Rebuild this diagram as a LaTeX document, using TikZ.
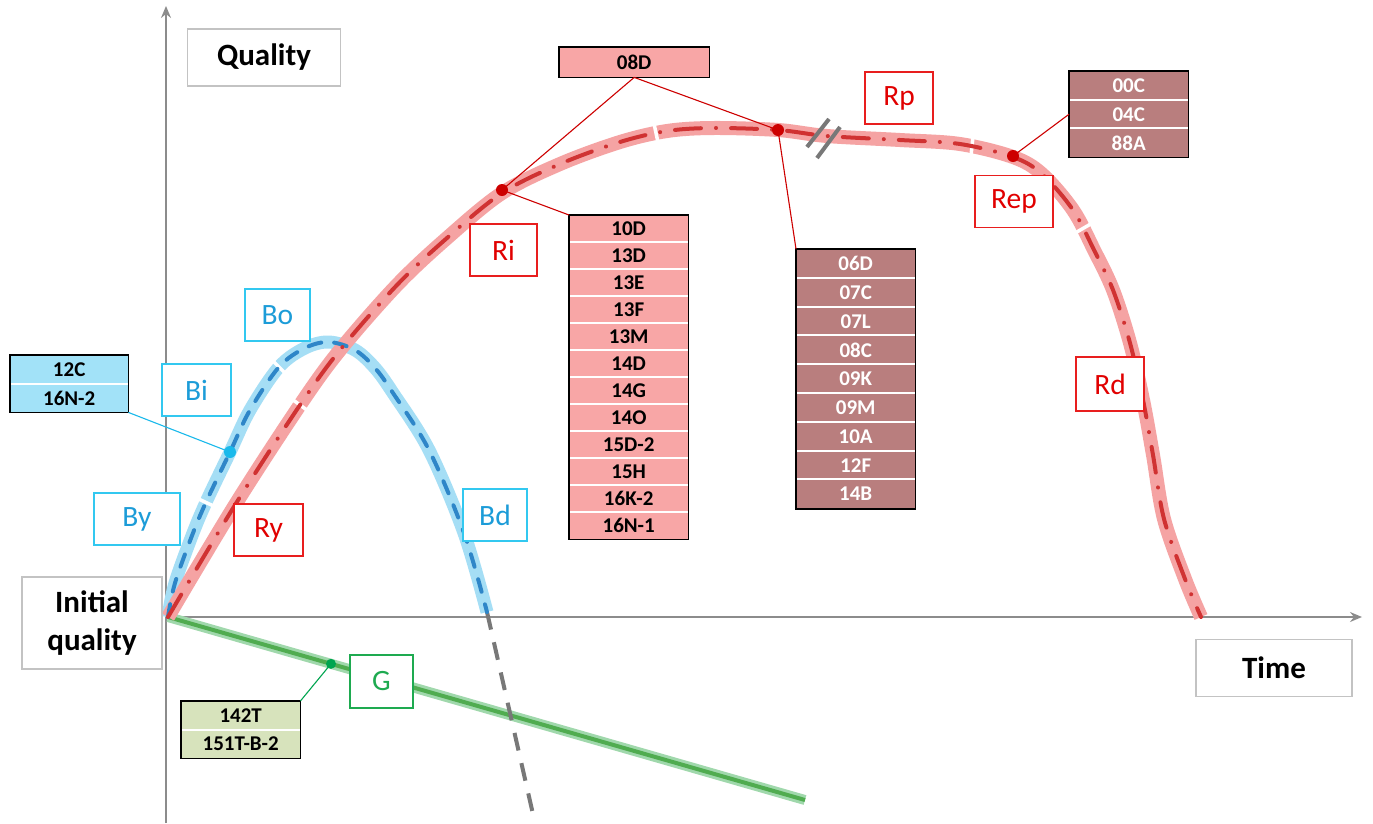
\documentclass[tikz,border=0pt]{standalone}
\usepackage{fontspec}
\setmainfont{Carlito}
\usetikzlibrary{arrows.meta}
\definecolor{bandred}{RGB}{245,163,163}
\definecolor{dashred}{RGB}{208,50,50}
\definecolor{bandblue}{RGB}{165,222,245}
\definecolor{dashblue}{RGB}{46,134,200}
\definecolor{bandgreen}{RGB}{160,216,172}
\definecolor{linegreen}{RGB}{80,172,80}
\definecolor{pinkfill}{RGB}{248,166,166}
\definecolor{mauvefill}{RGB}{185,126,126}
\definecolor{cyanfill}{RGB}{162,226,248}
\definecolor{olivefill}{RGB}{215,227,188}
\definecolor{lblred}{RGB}{232,30,30}
\definecolor{lblredtext}{RGB}{225,0,0}
\definecolor{lblblue}{RGB}{50,200,240}
\definecolor{lblbluetext}{RGB}{28,156,216}
\definecolor{lblgreen}{RGB}{30,170,80}
\definecolor{axisgrey}{RGB}{140,140,140}
\definecolor{boxgrey}{RGB}{195,195,195}
\definecolor{dotred}{RGB}{205,0,0}
\definecolor{dotblue}{RGB}{25,185,235}
\definecolor{dotgreen}{RGB}{0,165,80}
\definecolor{markgrey}{RGB}{120,120,120}

\newcommand{\listbox}[8]{%
  \foreach \itm [count=\i] in {#8} {
    \node[listrow, minimum width=#4, minimum height=#5, #6] (#1\i) at (#2, {#3+#5*(\i-1)}) {\itm};
    \ifnum\i>1 \draw[white, line width=2] (#1\i.north west) -- (#1\i.north east);\fi
  }
  \draw[black, line width=1.8] (#11.north west) rectangle (#1#7.south east);
}

\begin{document}
\begin{tikzpicture}[x=1pt,y=-1pt,
  axisline/.style={draw=axisgrey, line width=1.6, -{Stealth[length=12,width=10,inset=4]}},
  axbox/.style={draw=boxgrey, line width=1.5, fill=white, inner sep=0, font=\bfseries\fontsize{31}{38}\selectfont, align=center},
  lbl/.style={draw, fill=white, line width=1.3, minimum width=66, minimum height=52, inner sep=0, font=\fontsize{29.5}{30}\selectfont},
  redlbl/.style={lbl, draw=lblred, text=lblredtext},
  bluelbl/.style={lbl, draw=lblblue, text=lblbluetext},
  greenlbl/.style={lbl, draw=lblgreen, text=lblgreen},
  listrow/.style={inner sep=0, anchor=north west, font=\bfseries\fontsize{21}{22}\selectfont},
  redband/.style={draw=bandred, line width=14},
  redd/.style={draw=dashred, line width=4, line cap=round, dash pattern=on 26 off 15 on 0.1 off 15},
  blueband/.style={draw=bandblue, line width=13},
  blued/.style={draw=dashblue, line width=4, line cap=round, dash pattern=on 13 off 13},
  greenband/.style={draw=bandgreen, line width=10},
  greenln/.style={draw=linegreen, line width=4},
  greydash/.style={draw=markgrey, line width=4, dash pattern=on 18 off 13},
  gapmark/.style={fill=white, minimum width=3.5, minimum height=22, inner sep=0},
  breakmark/.style={draw=markgrey, line width=4},
  redcon/.style={draw=dotred, line width=1.1},
  bluecon/.style={draw=dotblue, line width=1.1},
  greencon/.style={draw=dotgreen, line width=1.1}
]
\fill[white] (0,0) rectangle (1373,823);
\useasboundingbox (0,0) rectangle (1373,823);

% axes
\coordinate (O) at (168,617);
\coordinate (yb) at (166,823);
\coordinate (yt) at (166,6);
\coordinate (xs) at (166,617);
\coordinate (xe) at (1362,617);
\draw[axisline] (yb) -- (yt);
\draw[axisline] (xs) -- (xe);

% dot coordinates
\coordinate (dRi) at (502,190);
\coordinate (dRp) at (778,130);
\coordinate (dRep) at (1013,156);
\coordinate (dB) at (230,452);
\coordinate (dG) at (331,663.8);

% green
\coordinate (gEnd) at (805,800);
\draw[greenband] (O) -- (gEnd);
\draw[greenln] (O) -- (gEnd);

% grey dashed continuation
\coordinate (bEnd) at (487,612);
\coordinate (gdEnd) at (535,823);
\draw[greydash] (bEnd) -- (gdEnd);

\def\bluepath{plot[smooth, tension=0.55] coordinates {(168,617) (175,583) (193,533) (207,500) (230,452) (250,410) (279,367) (305,348) (329,342) (355,350) (375,368) (393,393) (429,450) (464,533) (487,612)}}
\def\redpath{plot[smooth, tension=0.55] coordinates {(168,617) (235,505) (300,405) (340,350) (397,285) (447,238) (502,193) (560,164) (620,142) (667,131) (713,128) (778,130) (827,136) (900,140) (960,144) (1013,157) (1042,174) (1073,210) (1094,250) (1113,290) (1130,343) (1143,400) (1153,455) (1164,519) (1185,579) (1201,617)}}

\draw[blueband] \bluepath;
\draw[redband] \redpath;

% gaps in bands
\node[gapmark, rotate=54] (g1) at (300,405) {};
\node[gapmark, rotate=12] (g2) at (656,133) {};
\node[gapmark, rotate=-6] (g3) at (972,146) {};
\node[gapmark, rotate=-60] (g4) at (1082,229) {};
\node[gapmark, rotate=65] (g5) at (205,502) {};
\node[gapmark, rotate=45] (g6) at (279,367) {};

\draw[blued] \bluepath;
\draw[redd] \redpath;

% break mark
\draw[breakmark] (807,147) -- (829,119);
\draw[breakmark] (817,158) -- (840,127);

% list boxes
\listbox{P}{559}{47}{150}{30}{fill=pinkfill}{1}{08D}
\listbox{A}{569}{215}{119}{27}{fill=pinkfill}{12}{10D,13D,13E,13F,13M,14D,14G,14O,15D-2,15H,16K-2,16N-1}
\listbox{M}{796}{249}{119}{28.8}{fill=mauvefill, text=white}{9}{06D,07C,07L,08C,09K,09M,10A,12F,14B}
\listbox{E}{1069}{71}{119}{28.7}{fill=mauvefill, text=white}{3}{00C,04C,88A}
\listbox{C}{10}{355}{118}{28.5}{fill=cyanfill}{2}{12C,16N-2}
\listbox{T}{181}{701}{119}{28.5}{fill=olivefill}{2}{142T,151T-B-2}

% connectors
\draw[redcon] (P1.south) -- (dRi);
\draw[redcon] (P1.south) -- (dRp);
\draw[redcon] (dRi) -- (A1.north west);
\draw[redcon] (dRp) -- (M1.north west);
\draw[redcon] (dRep) -- (E2.west);
\draw[bluecon] (C2.south east) -- (dB);
\draw[greencon] (dG) -- (T1.north east);

% dots
\fill[dotred] (dRi) circle[radius=6];
\fill[dotred] (dRp) circle[radius=6];
\fill[dotred] (dRep) circle[radius=6];
\fill[dotblue] (dB) circle[radius=6];
\fill[dotgreen] (dG) circle[radius=5];

% axis labels
\node[axbox, minimum width=153, minimum height=57] (Q) at (264,57.5) {Quality};
\node[axbox, minimum width=140, minimum height=92] (IQ) at (92,623) {Initial\\quality};
\node[axbox, minimum width=156, minimum height=57] (Tm) at (1274,668) {Time};

% curve labels
\node[bluelbl, minimum width=86] (By) at (137,519) {By};
\node[bluelbl, minimum width=69] (Bi) at (196.5,390) {Bi};
\node[bluelbl, minimum width=65] (Bo) at (277.5,315) {Bo};
\node[bluelbl, minimum width=64] (Bd) at (495,515) {Bd};
\node[redlbl, minimum width=69] (Ry) at (268.5,530) {Ry};
\node[redlbl, minimum width=67] (Ri) at (503.5,250) {Ri};
\node[redlbl, minimum width=68] (Rp) at (899,98) {Rp};
\node[redlbl, minimum width=78] (Rep) at (1014,201.5) {Rep};
\node[redlbl, minimum width=68, minimum height=54] (Rd) at (1110,384) {Rd};
\node[greenlbl, minimum width=63, minimum height=53] (G) at (381.5,681.5) {G};
\end{tikzpicture}
\end{document}
